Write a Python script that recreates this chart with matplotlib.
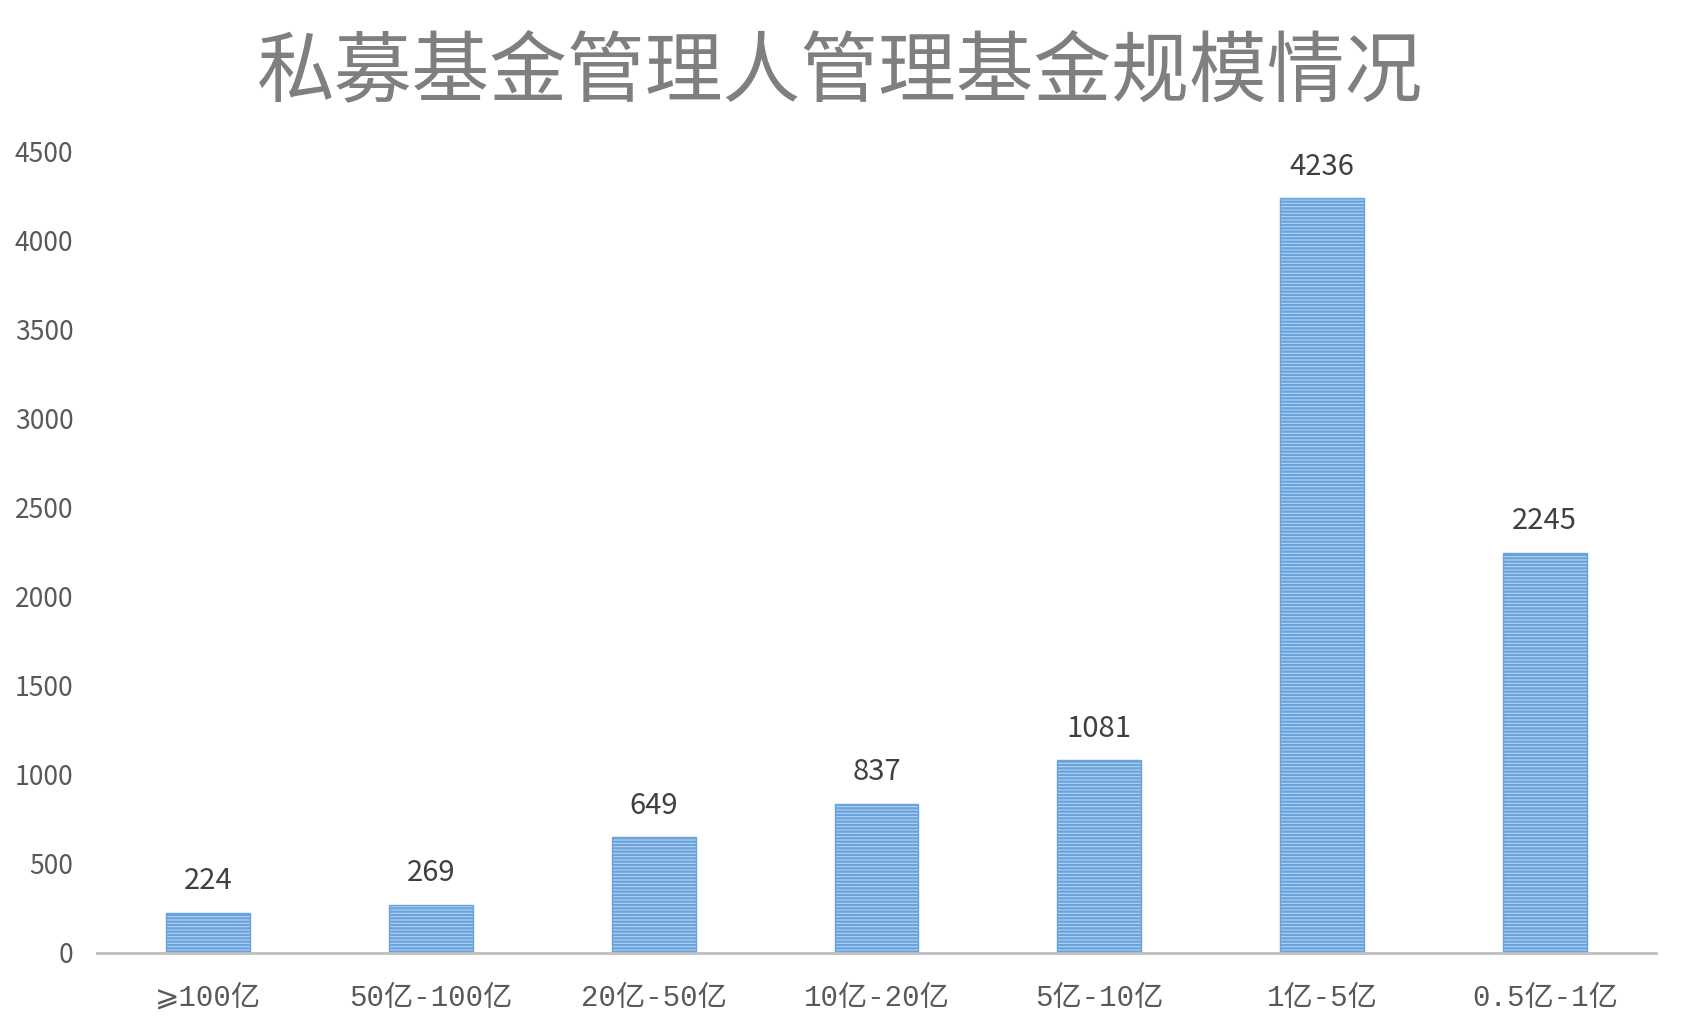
import matplotlib
matplotlib.use("Agg")
import matplotlib.pyplot as plt

plt.rcParams['font.family'] = ['Noto Sans CJK SC', 'DejaVu Sans']
plt.rcParams['hatch.linewidth'] = 1.6

title = "私募基金管理人管理基金规模情况"
categories = ["⩾100亿", "50亿-100亿", "20亿-50亿", "10亿-20亿", "5亿-10亿", "1亿-5亿", "0.5亿-1亿"]
values = [224, 269, 649, 837, 1081, 4236, 2245]
yticks = [0, 500, 1000, 1500, 2000, 2500, 3000, 3500, 4000, 4500]

fig = plt.figure(figsize=(16.83, 10.30), dpi=100)
ax = fig.add_axes([0.0576, 0.0748, 0.9264, 0.7782])

x = list(range(len(categories)))
plt.rcParams['hatch.color'] = '#5b9bd5'
bars = ax.bar(x, values, width=0.376, color='#b4d3f2', edgecolor='#6aa3dc',
              linewidth=1.0, hatch='-----')

for xi, v in zip(x, values):
    ax.annotate(str(v), (xi, v), xytext=(0, 12), textcoords='offset points',
                ha='center', va='bottom', fontsize=21, color='#404040')

ax.set_xlim(-0.5, len(categories) - 0.5)
ax.set_ylim(0, 4500)
ax.set_yticks(yticks)
ax.set_yticklabels([str(t) for t in yticks], fontsize=19, color='#595959')
ax.set_xticks(x)
ax.set_xticklabels(categories, fontsize=21, color='#595959',
                   family=['Liberation Mono', 'Noto Sans CJK SC', 'DejaVu Sans'])
ax.tick_params(axis='y', length=0, pad=17)
ax.tick_params(axis='x', length=0, pad=22)

for s in ['top', 'right', 'left']:
    ax.spines[s].set_visible(False)
ax.spines['bottom'].set_color('#bfbfbf')
ax.spines['bottom'].set_linewidth(2)

fig.text(0.499, 0.929, title, ha='center', va='center', fontsize=56,
         color='#7f7f7f', fontweight='medium')

fig.savefig("out.png", dpi=100)
